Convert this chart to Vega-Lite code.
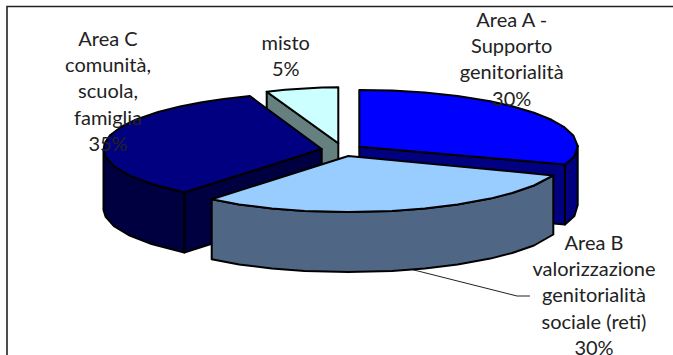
{"$schema":"https://vega.github.io/schema/vega-lite/v6.json","width":673,"height":355,"padding":0,"autosize":"none","background":"white","view":{"stroke":null},"projection":{"type":"identity","scale":1,"translate":[0,0]},"layer":[{"data":{"values":[{"type":"Feature","properties":{"part":"frame"},"geometry":{"type":"LineString","coordinates":[[7,355],[7,6.5],[673,6.5]]}},{"type":"Feature","properties":{"part":"leader"},"geometry":{"type":"LineString","coordinates":[[410,269],[517,296],[530,296]]}}]},"mark":{"type":"geoshape","filled":false,"stroke":"#222222","strokeWidth":1.3},"encoding":{"strokeWidth":{"condition":{"test":"datum.properties.part==='frame'","value":1.6},"value":1}}},{"data":{"values":[{"type":"Feature","properties":{"part":"misto side"},"geometry":{"type":"Polygon","coordinates":[[[266.7,91.7],[338.3,143.3],[338.3,203],[266.7,152],[266.7,91.7]]]}},{"type":"Feature","properties":{"part":"misto"},"geometry":{"type":"Polygon","coordinates":[[[266.7,91.7],[285,89.8],[305,88.4],[322,87.6],[338.3,87.3],[338.3,143.3],[266.7,91.7]]]}},{"type":"Feature","properties":{"part":"C side"},"geometry":{"type":"Polygon","coordinates":[[[184.3,192.5],[321.7,149],[321.7,209],[184.3,252.5],[184.3,192.5]]]}},{"type":"Feature","properties":{"part":"C side"},"geometry":{"type":"Polygon","coordinates":[[[103.5,150],[105.7,156.9],[114.4,166.5],[129.7,175.6],[151.6,184],[184.3,192.5],[184.3,252.5],[151.6,244],[129.7,235.6],[114.4,226.5],[105.7,216.9],[103.5,210],[103.5,150]]]}},{"type":"Feature","properties":{"part":"Area C"},"geometry":{"type":"Polygon","coordinates":[[[321.7,149],[249.9,96.1],[223.7,99],[201.8,102.2],[180,106.4],[158.1,112],[136.3,119.5],[121,127],[110,135.4],[104.6,143.4],[103.5,150],[105.7,156.9],[114.4,166.5],[129.7,175.6],[151.6,184],[184.3,192.5],[321.7,149]]]}},{"type":"Feature","properties":{"part":"A side"},"geometry":{"type":"Polygon","coordinates":[[[359.3,146.7],[565,164.5],[565,224.5],[359.3,206.7],[359.3,146.7]]]}},{"type":"Feature","properties":{"part":"A side"},"geometry":{"type":"Polygon","coordinates":[[[565,164.5],[574.4,156.5],[577.7,146],[577.7,205],[574.4,216],[565,224.5],[565,164.5]]]}},{"type":"Feature","properties":{"part":"Area A"},"geometry":{"type":"Polygon","coordinates":[[[359.3,90],[392,90.6],[424.8,92.6],[457.6,96.1],[490.3,101.3],[512.2,106.2],[534,112.7],[551.5,119.8],[564.6,127.4],[573.3,135.4],[577.7,146],[574.4,156.5],[565,164.5],[359.3,146.7],[359.3,90]]]}},{"type":"Feature","properties":{"part":"B side"},"geometry":{"type":"Polygon","coordinates":[[[211.7,199.3],[239.1,204.5],[271.8,208.5],[304.6,210.9],[348.3,212],[392,210.9],[424.8,208.5],[457.6,204.5],[490.3,198.6],[512.2,193],[534,185.5],[553.3,175.4],[553.3,234.5],[534,245.5],[512.2,253],[490.3,258.6],[457.6,264.5],[424.8,268.5],[392,270.9],[348.3,272],[304.6,270.9],[271.8,268.5],[239.1,264.5],[211.7,259.3],[211.7,199.3]]]}},{"type":"Feature","properties":{"part":"Area B"},"geometry":{"type":"Polygon","coordinates":[[[348.3,156],[553.3,175.4],[534,185.5],[512.2,193],[490.3,198.6],[457.6,204.5],[424.8,208.5],[392,210.9],[348.3,212],[304.6,210.9],[271.8,208.5],[239.1,204.5],[211.7,199.3],[348.3,156]]]}}]},"mark":{"type":"geoshape","stroke":"#000000","strokeWidth":2,"strokeJoin":"round"},"encoding":{"fill":{"field":"properties.part","type":"nominal","legend":null,"scale":{"domain":["misto side","misto","C side","Area C","A side","Area A","B side","Area B"],"range":["#668080","#CCFFFF","#000040","#000080","#000080","#0000FF","#4F6785","#99CCFF"]}}}},{"data":{"values":[{"label":"Area C\ncomunità,\nscuola,\nfamiglia\n35%","x":108,"y":30},{"label":"misto\n5%","x":285.7,"y":34},{"label":"Area A -\nSupporto\ngenitorialità\n30%","x":511.7,"y":11},{"label":"Area B\nvalorizzazione\ngenitorialità\nsociale (reti)\n30%","x":594,"y":234}]},"mark":{"type":"text","font":"Lato","fontSize":20,"lineHeight":26.2,"lineBreak":"\n","align":"center","baseline":"top","color":"#222222"},"encoding":{"longitude":{"field":"x","type":"quantitative"},"latitude":{"field":"y","type":"quantitative"},"text":{"field":"label"}}}]}
